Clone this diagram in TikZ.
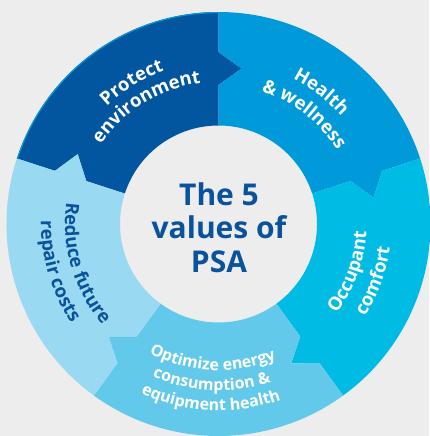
\documentclass[tikz,border=0pt]{standalone}
\usepackage{fontspec}
\setmainfont{Open Sans}
\usetikzlibrary{calc,decorations.text}
\definecolor{bg}{HTML}{EDEDED}
\definecolor{cprot}{HTML}{02569F}
\definecolor{chealth}{HTML}{0099DA}
\definecolor{cocc}{HTML}{00BCE4}
\definecolor{copt}{HTML}{63C9EB}
\definecolor{cred}{HTML}{99D9F1}
\definecolor{ctext}{HTML}{0B529C}
\newcommand{\segbig}{\bfseries\fontsize{18.5}{18.5}\selectfont}
\newcommand{\segsmall}{\bfseries\fontsize{16}{16}\selectfont}
\tikzset{
  arctext/.style={decorate, decoration={text along path, text align=center, text color=#1}},
  titletext/.style={text=ctext, font=\bfseries\fontsize{30}{30}\selectfont, anchor=base, inner sep=0pt}
}
\begin{document}
\begin{tikzpicture}[x=1pt,y=1pt]
\useasboundingbox (0,0) rectangle (429,-436);
\fill[bg] (0,0) rectangle (429,-436);
\coordinate (C) at (218.5,-224);
% ring segments with arrow tips (clockwise)
\foreach \s/\col in {162/cprot, 90/chealth, 18/cocc, -54/copt, -126/cred}{
  \pgfmathsetmacro\e{\s-72}
  \fill[\col] ($(C)+(\s:98.5)$) -- ($(C)+(\s:139)$) -- ($(C)+(\s:155.5)+(\s-90:23)$)
    -- ($(C)+(\s:172)$) -- ($(C)+(\s:212)$)
    arc[start angle=\s, end angle=\e, radius=212]
    -- ($(C)+(\e:172)$) -- ($(C)+(\e:155.5)+(\e-90:23)$) -- ($(C)+(\e:139)$)
    -- ($(C)+(\e:98.5)$)
    arc[start angle=\e, end angle=\s, radius=98.5] -- cycle;
}
\draw[chealth, line width=1.1pt] ($(C)+(162:211.4)$) arc[start angle=162, end angle=90, radius=211.4];
% Protect environment
\path[arctext=white, decoration={text={|\segbig|Protect}}] ($(C)+(161.5:162.5)$) arc[start angle=161.5, end angle=81.5, radius=162.5];
\path[arctext=white, decoration={text={|\segbig|environment}}] ($(C)+(161.5:142)$) arc[start angle=161.5, end angle=81.5, radius=142];
% Health & wellness
\path[arctext=white, decoration={text={|\segbig|Health}}] ($(C)+(92:163)$) arc[start angle=92, end angle=12, radius=163];
\path[arctext=white, decoration={text={|\segbig|{\&} wellness}}] ($(C)+(92:139.5)$) arc[start angle=92, end angle=12, radius=139.5];
% Occupant comfort
\path[arctext=white, decoration={text={|\segbig|Occupant}}] ($(C)+(-60:148)$) arc[start angle=-60, end angle=20, radius=148];
\path[arctext=white, decoration={text={|\segbig|comfort}}] ($(C)+(-60:173)$) arc[start angle=-60, end angle=20, radius=173];
% Optimize energy consumption & equipment health
\path[arctext=white, decoration={text={|\segsmall|Optimize energy}}] ($(C)+(-132.5:146.5)$) arc[start angle=-132.5, end angle=-52.5, radius=146.5];
\path[arctext=white, decoration={text={|\segsmall|consumption {\&}}}] ($(C)+(-132.5:166.5)$) arc[start angle=-132.5, end angle=-52.5, radius=166.5];
\path[arctext=white, decoration={text={|\segsmall|equipment health}}] ($(C)+(-132.5:186.5)$) arc[start angle=-132.5, end angle=-52.5, radius=186.5];
% Reduce future repair costs
\path[arctext=ctext, decoration={text={|\segbig|Reduce future}}] ($(C)+(156.5:153.5)$) arc[start angle=156.5, end angle=236.5, radius=153.5];
\path[arctext=ctext, decoration={text={|\segbig|repair costs}}] ($(C)+(156.5:177.5)$) arc[start angle=156.5, end angle=236.5, radius=177.5];
% centre title
\node[titletext] (t1) at (219,-205) {The 5};
\node[titletext] (t2) at (219,-238.5) {values of};
\node[titletext] (t3) at (219,-272) {PSA};
\end{tikzpicture}
\end{document}
